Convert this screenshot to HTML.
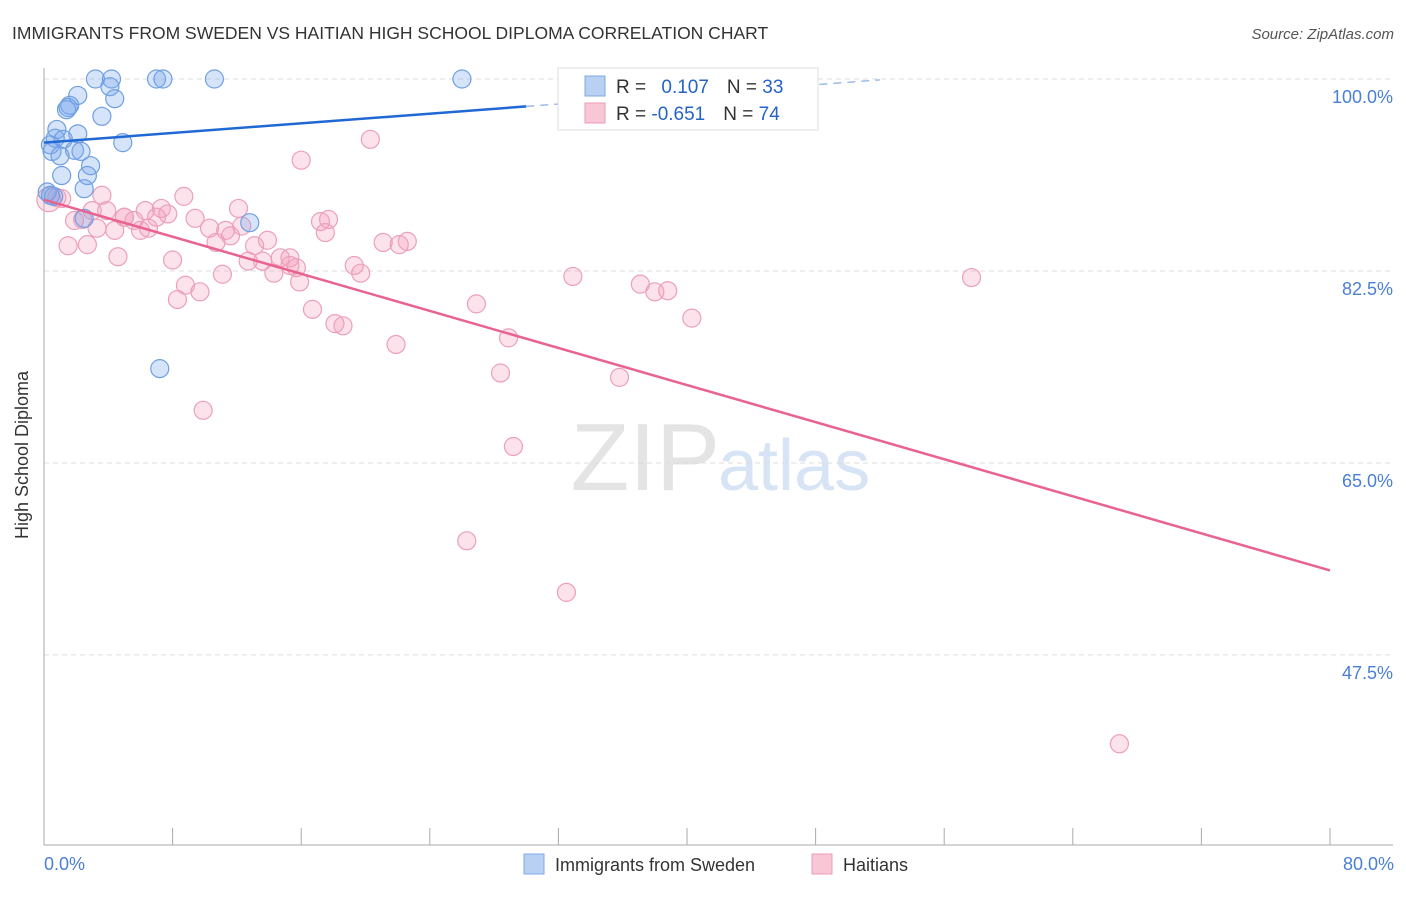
<!DOCTYPE html>
<html><head><meta charset="utf-8"><style>
body{margin:0;background:#fff;font-family:"Liberation Sans",sans-serif}
svg text{font-family:"Liberation Sans",sans-serif}
</style></head><body>
<svg width="1406" height="892" viewBox="0 0 1406 892" xmlns="http://www.w3.org/2000/svg">
<text x="12" y="39" font-size="17.5" fill="#333">IMMIGRANTS FROM SWEDEN VS HAITIAN HIGH SCHOOL DIPLOMA CORRELATION CHART</text>
<text x="1394" y="39" font-size="15" fill="#555" text-anchor="end" font-style="italic">Source: ZipAtlas.com</text>
<text x="720" y="490" font-size="96" fill="#e4e4e4" text-anchor="end" font-family="Liberation Serif">ZIP</text>
<text x="718" y="490" font-size="72" fill="#d6e4f5">atlas</text>
<g id="grid"></g>
<g id="axes"></g>
<g id="pts"></g>
<g id="lines"></g>
<text x="28" y="455" font-size="18" fill="#333" text-anchor="middle" transform="rotate(-90 28 455)">High School Diploma</text>
<text x="44" y="870" font-size="18" fill="#4a7fd4">0.0%</text>
<text x="1394" y="870" font-size="18" fill="#4a7fd4" text-anchor="end">80.0%</text>
<g>
<rect x="558" y="68" width="260" height="62" fill="#fff" stroke="#ddd"/>
<rect x="585" y="76" width="20" height="20" fill="#b8d1f3" stroke="#7fa8e6"/>
<rect x="585" y="103" width="20" height="20" fill="#f8c7d6" stroke="#ec9bb6"/>
<text x="616" y="93" font-size="19" fill="#333">R = <tspan fill="#2563c9" dx="10">0.107</tspan><tspan dx="18" fill="#333">N = </tspan><tspan fill="#2563c9">33</tspan></text>
<text x="616" y="120" font-size="19" fill="#333">R = <tspan fill="#2563c9">-0.651</tspan><tspan dx="18" fill="#333">N = </tspan><tspan fill="#2563c9">74</tspan></text>
</g>
<g>
<rect x="524" y="854" width="20" height="20" fill="#b8d1f3" stroke="#7fa8e6"/>
<text x="555" y="871" font-size="18" fill="#333">Immigrants from Sweden</text>
<rect x="812" y="854" width="20" height="20" fill="#f8c7d6" stroke="#ec9bb6"/>
<text x="843" y="871" font-size="18" fill="#333">Haitians</text>
</g>
</svg>
<script>
const yTicks=[100,82.5,65,47.5];
const yTickLabels=["100.0%","82.5%","65.0%","47.5%"];
const xTicks=[8,16,24,32,40,48,56,64,72,80];
const swedenX=[3.2,4.2,7.0,7.4,10.6,26.0,4.1,2.1,4.4,1.6,1.4,1.5,3.6,0.8,0.7,1.2,2.1,0.4,0.5,1.0,1.9,2.3,4.9,2.9,1.1,2.7,2.5,0.2,0.6,2.5,12.8,7.2,0.4];
const swedenY=[100,100,100,100,100,100,99.3,98.5,98.2,97.6,97.2,97.4,96.6,95.4,94.6,94.5,95.0,94.0,93.4,93.0,93.5,93.4,94.2,92.1,91.2,91.2,90.0,89.7,89.3,87.3,86.9,73.6,89.4];
const haitiX=[0.3,0.8,1.1,3.6,8.7,16.0,20.3,3.0,3.9,7.3,7.7,6.3,5.0,5.6,7.0,9.4,12.1,1.9,2.4,3.3,4.4,6.0,6.5,10.3,11.3,11.6,12.3,10.7,13.1,13.9,17.2,17.7,17.5,21.1,22.1,22.6,1.5,2.7,4.6,8.0,12.7,13.6,14.7,15.3,15.7,14.3,11.1,15.9,19.3,19.7,32.9,37.1,38.0,38.8,57.7,8.8,9.7,8.3,16.7,26.9,18.1,18.6,40.3,21.9,28.9,28.4,35.8,9.9,29.2,26.3,32.5,66.9,15.3,5.0];
const haitiY=[89.0,89.2,89.1,89.4,89.3,92.6,94.5,88.0,88.0,88.2,87.7,88.0,87.4,87.1,87.4,87.3,88.2,87.1,87.2,86.4,86.2,86.2,86.4,86.4,86.2,85.7,86.6,85.1,84.8,85.3,87.0,87.2,86.0,85.1,84.9,85.2,84.8,84.9,83.8,83.5,83.4,83.4,83.7,83.7,82.8,82.3,82.2,81.5,83.0,82.3,82.0,81.3,80.6,80.7,81.9,81.2,80.6,79.9,79.0,79.5,77.7,77.5,78.2,75.8,76.4,73.2,72.8,69.8,66.5,57.9,53.2,39.4,83.0,87.4];
const swedenTrend=[94.2,0.11];   // intercept, slope
const haitiTrend=[89.0,-0.4225];
const NS="http://www.w3.org/2000/svg";
const X=v=>44+v*16.075, Y=v=>79+(100-v)*10.97;
function mk(t,a,p){const e=document.createElementNS(NS,t);for(const k in a)e.setAttribute(k,a[k]);p.appendChild(e);return e;}
const grid=document.getElementById('grid'),axes=document.getElementById('axes'),pts=document.getElementById('pts'),lines=document.getElementById('lines');
yTicks.forEach((t,i)=>{
 const l=mk('line',{x1:44,x2:1393,y1:Y(t),y2:Y(t),stroke:'#ddd','stroke-dasharray':'5,4'},grid);
 
 
 const tx=mk('text',{x:1393,y:Y(t)+24,'font-size':18,fill:'#4a7fd4','text-anchor':'end'},grid);
 tx.textContent=yTickLabels[i];
 
 
});
const ax=mk('line',{x1:44,x2:44,y1:68,y2:845,stroke:'#aaa'},axes);


const bx=mk('line',{x1:44,x2:1393,y1:845,y2:845,stroke:'#aaa'},axes);


xTicks.forEach(t=>{
 const l=mk('line',{x1:X(t),x2:X(t),y1:828,y2:845,stroke:'#aaa'},axes);
 
 
});
haitiX.forEach((x,i)=>{
 const c=mk('circle',{cx:X(x),cy:Y(haitiY[i]),r:i===0?12:9,fill:'rgba(244,160,188,0.3)',stroke:'#eba0b9','stroke-width':1.2},pts);
 
 
});
swedenX.forEach((x,i)=>{
 const c=mk('circle',{cx:X(x),cy:Y(swedenY[i]),r:9,fill:'rgba(120,165,235,0.3)',stroke:'#6f9fe2','stroke-width':1.2},pts);
 
 
});
const sb=mk('line',{x1:X(0),y1:Y(swedenTrend[0]),x2:X(30),y2:Y(swedenTrend[0]+30*swedenTrend[1]),stroke:'#2068d4','stroke-width':2.5},lines);


const sd=mk('line',{x1:X(30),y1:Y(swedenTrend[0]+30*swedenTrend[1]),x2:X(52),y2:Y(swedenTrend[0]+52*swedenTrend[1]),stroke:'#9bbbe8','stroke-width':1.5,'stroke-dasharray':'8,6'},lines);


const ph=mk('line',{x1:X(0),y1:Y(haitiTrend[0]),x2:X(80),y2:Y(haitiTrend[0]+80*haitiTrend[1]),stroke:'#e8638f','stroke-width':2.5},lines);


</script>
</body></html>
